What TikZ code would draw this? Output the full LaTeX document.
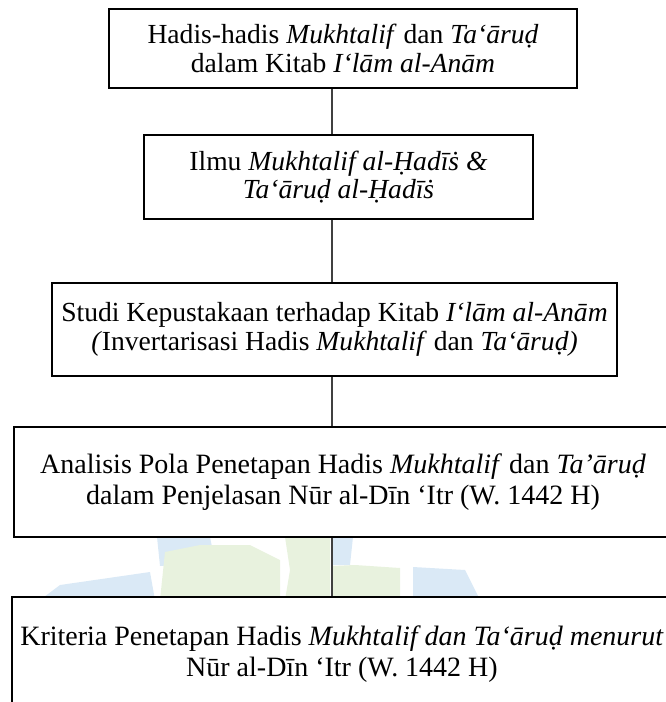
\documentclass[tikz,border=0pt]{standalone}
\usepackage{fontspec}
\setmainfont{Liberation Serif}
\definecolor{wmblue}{RGB}{218,233,246}
\definecolor{wmgreen}{RGB}{232,242,222}
\begin{document}
\begin{tikzpicture}[x=1pt,y=1pt,
  box/.style={draw=black, line width=2.8pt, fill=white, align=center, inner sep=0pt,
    font=\fontsize{27.6}{28.5}\selectfont},
  wide/.style={font=\fontsize{28}{30.5}\selectfont},
  link/.style={draw=black!75, line width=1.3pt}]
\useasboundingbox (0,0) rectangle (666,-702);
% watermark
\begin{scope}
\clip (0,-537) rectangle (666,-597);
\fill[wmblue] (40,-600) -- (60,-585) -- (150,-572) -- (155,-600) -- cycle;
\fill[wmblue] (157,-537) -- (210,-537) -- (215,-562) -- (160,-566) -- cycle;
\fill[wmgreen] (160,-600) -- (165,-552) -- (200,-545) -- (250,-545) -- (280,-560) -- (280,-600) -- cycle;
\fill[wmgreen] (285,-537) -- (330,-537) -- (330,-600) -- (285,-600) -- (290,-570) -- cycle;
\fill[wmblue] (333,-537) -- (353,-537) -- (350,-565) -- (333,-565) -- cycle;
\fill[wmgreen] (333,-566) -- (355,-565) -- (400,-568) -- (400,-600) -- (333,-600) -- cycle;
\fill[wmblue] (413,-567) -- (465,-570) -- (480,-600) -- (413,-600) -- cycle;
\end{scope}
\node[box, minimum width=468pt, minimum height=79pt] (b1) at (343,-48.5)
  {Hadis-hadis \textit{Mukhtalif} dan \textit{Ta‘āruḍ}\\dalam Kitab \textit{I‘lām al-Anām}};
\node[box, minimum width=389pt, minimum height=84pt] (b2) at (338.5,-177)
  {Ilmu \textit{Mukhtalif al-Ḥadīṡ \&}\\\textit{Ta‘āruḍ al-Ḥadīṡ}};
\node[box, minimum width=565pt, minimum height=93pt] (b3) at (334.5,-329.5)
  {Studi Kepustakaan terhadap Kitab \textit{I‘lām al-Anām}\\\textit{(}Invertarisasi Hadis \textit{Mukhtalif} dan \textit{Ta‘āruḍ)}};
\node[box, wide, minimum width=658pt, minimum height=110pt] (b4) at (343,-482)
  {Analisis Pola Penetapan Hadis \textit{Mukhtalif} dan \textit{Ta’āruḍ}\\dalam Penjelasan Nūr al-Dīn ‘Itr (W. 1442 H)};
\node[box, wide, minimum width=660pt, minimum height=114pt] (b5) at (342,-654)
  {Kriteria Penetapan Hadis \textit{Mukhtalif dan Ta‘āruḍ menurut}\\Nūr al-Dīn ‘Itr (W. 1442 H)};
\draw[link] (b1.south -| 332,0) -- (b2.north -| 332,0);
\draw[link] (b2.south -| 332,0) -- (b3.north -| 332,0);
\draw[link] (b3.south -| 332,0) -- (b4.north -| 332,0);
\draw[link] (b4.south -| 332,0) -- (b5.north -| 332,0);
\end{tikzpicture}
\end{document}
